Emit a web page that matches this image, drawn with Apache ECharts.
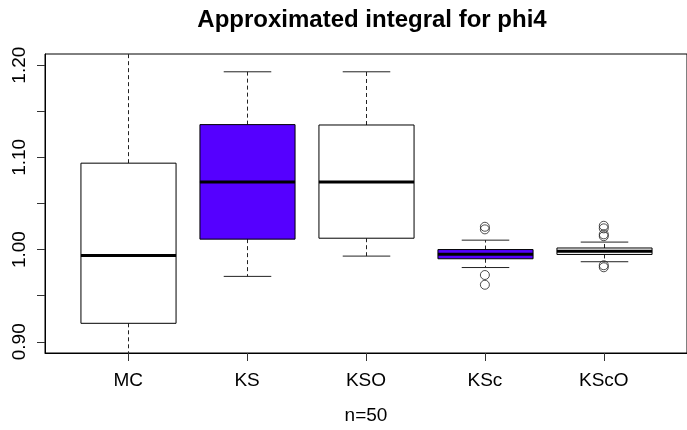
<!DOCTYPE html>
<html>
<head>
<meta charset="utf-8">
<script src="https://cdn.jsdelivr.net/npm/echarts@6/dist/echarts.min.js"></script>
<style>
html,body{margin:0;padding:0;background:#fff;}
#chart{width:687px;height:430px;}
</style>
</head>
<body>
<div id="chart"></div>
<script>
// ---- data ----
const categories = ['MC', 'KS', 'KSO', 'KSc', 'KScO'];
const lowerWhisker = [0.860, 0.9709, 0.9929, 0.9805, 0.9868];
const q1 = [0.9200, 1.0113, 1.0123, 0.9900, 0.9947];
const medians = [0.9936, 1.0733, 1.0733, 0.9950, 0.9982];
const q3 = [1.0937, 1.1355, 1.1351, 1.0000, 1.0017];
const upperWhisker = [1.240, 1.1928, 1.1928, 1.0102, 1.0081];
const outliersKSc = [1.0247, 1.0219, 0.9724, 0.9618];
const outliersKScO = [1.0258, 1.0230, 1.0165, 1.0145, 0.9830, 0.9808];
const yTicks = [0.90, 0.95, 1.00, 1.05, 1.10, 1.15, 1.20];
const yLabels = [0.90, 1.00, 1.10, 1.20];
const title = 'Approximated integral for phi4';
const xName = 'n=50';

// ---- styles ----
const fillColors = ['#ffffff', '#5500ff', '#ffffff', '#5500ff', '#ffffff'];
const FONT = '"Liberation Sans", Arial, Helvetica, sans-serif';

const boxData = categories.map((c, i) => [i + 1, lowerWhisker[i], q1[i], medians[i], q3[i], upperWhisker[i]]);
const outlierData = [];
outliersKSc.forEach(v => outlierData.push([4, v]));
outliersKScO.forEach(v => outlierData.push([5, v]));

const chart = echarts.init(document.getElementById('chart'), null, {renderer: 'canvas'});

function renderBox(params, api) {
  const x = api.value(0);
  const lo = api.coord([x, api.value(1)]);
  const b1 = api.coord([x, api.value(2)]);
  const md = api.coord([x, api.value(3)]);
  const b3 = api.coord([x, api.value(4)]);
  const hi = api.coord([x, api.value(5)]);
  const bw = api.size([0.8, 0])[0];
  const cw = bw / 2;
  const cx = Math.round(lo[0]) + 0.5;
  const lineStyle = {stroke: '#222', lineWidth: 1, fill: null};
  const dashStyle = {stroke: '#222', lineWidth: 1, lineDash: [4, 3], fill: null};
  return {
    type: 'group',
    children: [
      {type: 'line', shape: {x1: cx, y1: b3[1], x2: cx, y2: hi[1]}, style: dashStyle},
      {type: 'line', shape: {x1: cx, y1: b1[1], x2: cx, y2: lo[1]}, style: dashStyle},
      {type: 'line', shape: {x1: cx - cw / 2, y1: hi[1], x2: cx + cw / 2, y2: hi[1]}, style: lineStyle},
      {type: 'line', shape: {x1: cx - cw / 2, y1: lo[1], x2: cx + cw / 2, y2: lo[1]}, style: lineStyle},
      {type: 'rect', shape: {x: cx - bw / 2, y: b3[1], width: bw, height: b1[1] - b3[1]},
        style: {fill: fillColors[params.dataIndex], stroke: '#000', lineWidth: 1}},
      {type: 'line', shape: {x1: cx - bw / 2, y1: md[1], x2: cx + bw / 2, y2: md[1]},
        style: {stroke: '#000', lineWidth: 3}}
    ]
  };
}

chart.setOption({
  animation: false,
  backgroundColor: '#ffffff',
  title: {
    text: title,
    left: 367,
    textAlign: 'center',
    top: 3,
    textStyle: {fontFamily: FONT, fontWeight: 'bold', fontSize: 24, color: '#000'}
  },
  grid: {
    left: 45, right: -2, top: 54, bottom: 71,
    show: true, borderColor: '#000', borderWidth: 1, backgroundColor: 'transparent'
  },
  xAxis: {
    type: 'value',
    min: 0.3, max: 5.7,
    name: xName,
    nameLocation: 'middle',
    nameGap: 53,
    nameTextStyle: {fontFamily: FONT, fontSize: 19, color: '#000'},
    splitLine: {show: false},
    axisLine: {show: true, lineStyle: {color: '#000', width: 1}},
    axisTick: {show: true, length: 8, lineStyle: {color: '#333'}, customValues: [1, 2, 3, 4, 5]},
    axisLabel: {
      customValues: [1, 2, 3, 4, 5],
      margin: 18,
      fontFamily: FONT, fontSize: 19, color: '#000',
      formatter: v => categories[Math.round(v) - 1] || ''
    }
  },
  yAxis: {
    type: 'value',
    min: 0.8878, max: 1.2121,
    splitLine: {show: false},
    axisLine: {show: true, lineStyle: {color: '#000', width: 1}},
    axisTick: {show: true, length: 8, lineStyle: {color: '#333'}, customValues: yTicks},
    axisLabel: {
      customValues: yLabels,
      rotate: 90,
      margin: 16,
      fontFamily: FONT, fontSize: 19, color: '#000',
      formatter: v => Number(v).toFixed(2)
    }
  },
  series: [
    {
      type: 'custom',
      clip: true,
      renderItem: renderBox,
      encode: {x: 0, y: [1, 2, 3, 4, 5]},
      data: boxData,
      z: 2
    },
    {
      type: 'scatter',
      symbol: 'circle',
      symbolSize: 9,
      itemStyle: {color: 'transparent', borderColor: '#222', borderWidth: 1},
      data: outlierData,
      z: 3
    }
  ]
});
</script>
</body>
</html>
